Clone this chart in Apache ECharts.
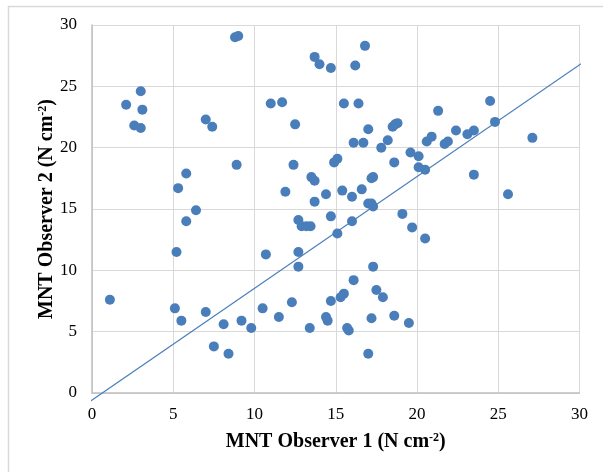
<!DOCTYPE html>
<html>
<head>
<meta charset="utf-8">
<script src="https://cdn.jsdelivr.net/npm/echarts@6/dist/echarts.min.js"></script>
<style>html,body{margin:0;padding:0;background:#fff;}#c{width:603px;height:472px;}</style>
</head>
<body>
<div id="c"></div>
<script>
// Observer 1 values (x)
var obs1 = [1.1,2.1,2.6,3.0,3.0,3.1,5.1,5.2,5.3,5.5,5.8,5.8,6.4,7.0,7.4,7.0,7.5,8.1,8.4,8.8,9.0,8.9,9.2,9.8,10.5,10.7,11.0,11.7,11.5,11.9,12.3,12.4,12.5,12.7,12.7,12.7,12.9,13.2,13.45,13.4,13.5,13.7,13.7,14.0,13.7,14.4,14.4,14.5,14.7,14.7,14.7,14.9,15.1,15.1,15.3,15.5,15.4,15.5,15.7,15.8,16.0,16.0,16.1,16.1,16.2,16.4,16.6,16.7,16.8,17.0,17.0,17.0,17.2,17.3,17.2,17.3,17.2,17.3,17.5,17.9,17.8,18.2,18.5,18.65,18.8,18.6,18.6,19.1,19.5,19.6,19.7,20.1,20.1,20.5,20.5,20.6,20.9,21.3,21.7,21.9,22.4,23.1,23.5,23.5,24.5,24.8,25.6,27.1];
// Observer 2 values (y)
var obs2 = [7.6,23.5,21.8,21.6,24.6,23.1,6.9,11.5,16.7,5.9,17.9,14.0,14.9,22.3,21.7,6.6,3.8,5.6,3.2,29.0,29.1,18.6,5.9,5.3,6.9,11.3,23.6,23.7,6.2,16.4,7.4,18.6,21.9,14.1,11.5,10.3,13.6,13.6,13.6,5.3,17.6,17.3,27.4,26.8,15.6,16.2,6.2,5.9,26.5,14.4,7.5,18.8,19.1,13.0,7.8,8.1,16.5,23.6,5.3,5.1,16.0,14.0,9.2,20.4,26.7,23.6,16.6,20.4,28.3,21.5,3.2,15.45,15.45,15.2,17.5,17.6,6.1,10.3,8.4,7.8,20.0,20.6,21.7,21.9,22.0,18.8,6.3,14.6,5.7,19.6,13.5,19.3,18.4,18.2,12.6,20.5,20.9,23.0,20.3,20.5,21.4,21.1,21.4,17.8,23.8,22.1,16.2,20.8];
// Trend line end points
var trendX = [-0.23, 30.1];
var trendY = [-0.79, 26.85];
var axisTicks = [0,5,10,15,20,25,30];

var pts = obs1.map(function(v,i){return [v, obs2[i]];});
var trend = trendX.map(function(v,i){return [v, trendY[i]];});

var serif = "'Liberation Serif','Times New Roman',serif";
var titleStyle = {
  fontFamily: serif, fontWeight: 'bold', fontSize: 20, color: '#000',
  rich: { sup: { fontFamily: serif, fontWeight: 'bold', fontSize: 12, color: '#000', verticalAlign: 'top', padding:[0,0,8,0] } }
};
function axisCommon(name, gap){
  return {
    type: 'value', min: axisTicks[0], max: axisTicks[axisTicks.length-1], interval: 5,
    name: name, nameLocation: 'middle', nameGap: gap, nameTextStyle: titleStyle,
    axisLine: {show: true, lineStyle: {color: '#bfbfbf', width: 1.5}},
    axisTick: {show: false},
    splitLine: {show: true, lineStyle: {color: '#d9d9d9', width: 1}},
    axisLabel: {fontFamily: serif, fontSize: 17, color: '#000', margin: 13}
  };
}
var chart = echarts.init(document.getElementById('c'), null, {renderer: 'canvas'});
var xa = axisCommon('MNT Observer 1 (N cm{sup|-2})', 39);
var ya = axisCommon('MNT Observer 2 (N cm{sup|-2})', 35);
ya.nameMoveOverlap = false;
ya.axisLabel.margin = 15;
chart.setOption({
  animation: false,
  backgroundColor: '#fff',
  grid: {left: 92, right: 23.5, top: 25, bottom: 79, containLabel: false},
  xAxis: xa,
  yAxis: ya,
  graphic: [{type: 'rect', shape: {x: 8.5, y: 6.5, width: 700, height: 600}, style: {fill: null, stroke: '#d9d9d9', lineWidth: 1.5}, silent: true}],
  series: [
    {type: 'line', data: trend, showSymbol: false, clip: false, z: 2,
     lineStyle: {color: '#4a7ebb', width: 1.2}},
    {type: 'scatter', data: pts, symbolSize: 10, z: 3,
     itemStyle: {color: '#4a7ebb', opacity: 1}}
  ]
});
</script>
</body>
</html>
